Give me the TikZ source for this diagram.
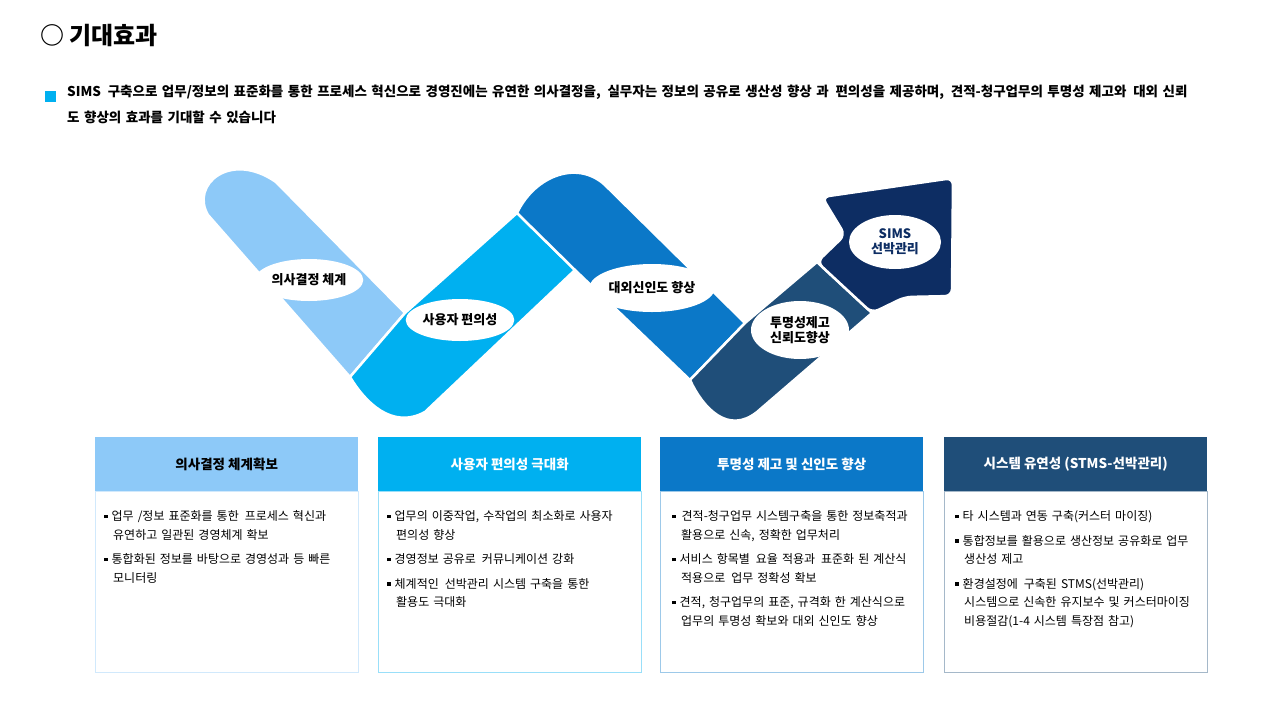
\documentclass[tikz,border=0pt]{standalone}
\usetikzlibrary{shapes.geometric}
\usepackage{fontspec}
\setmainfont{Noto Sans CJK KR}
\definecolor{cA}{HTML}{8DC9F8}
\definecolor{cB}{HTML}{00B0F0}
\definecolor{cC}{HTML}{0B78C8}
\definecolor{cD}{HTML}{1F4E79}
\definecolor{cE}{HTML}{0D2D63}
\newcommand{\bx}{\rule[2.5pt]{3.5pt}{3.5pt}\hspace{4pt}}
\newcommand{\bitem}[1]{\par\hangindent=9pt\hangafter=1\bx #1\par\vspace{6pt}}
\begin{document}
\begin{tikzpicture}[x=1pt,y=-1pt,
  seg/.style={draw=white,line width=2.5pt,line join=round},
  lab/.style={ellipse,fill=white,inner sep=1pt,font=\fontsize{13}{15}\selectfont\bfseries,align=center},
  head/.style={minimum width=263pt,minimum height=54pt,anchor=north west,font=\fontsize{13.5}{16}\selectfont\bfseries,text=white},
  body/.style={minimum width=263pt,minimum height=181pt,anchor=north west,draw=#1!40,line width=0.8pt},
  btext/.style={anchor=north west,text width=236pt,align=left,font=\fontsize{12}{18.5}\selectfont,inner sep=0pt}]
\useasboundingbox (0,0) rectangle (1280,718);
\node[anchor=west,font=\fontsize{24}{28}\selectfont\bfseries,inner sep=0pt] (title) at (40,35) {○ 기대효과};
\node[fill=cB,minimum size=11pt,inner sep=0pt] (sq) at (50,96) {};
\node[anchor=north west,text width=1180pt,font=\fontsize{13.5}{26}\selectfont\bfseries,inner sep=0pt,align=left] (intro) at (67,85) {SIMS\, 구축으로 업무/정보의 표준화를 통한 프로세스 혁신으로 경영진에는 유연한 의사결정을,\, 실무자는 정보의 공유로 생산성 향상 과\, 편의성을 제공하며,\, 견적-청구업무의 투명성 제고와\, 대외 신뢰\\도 향상의 효과를 기대할 수 있습니다};
% zigzag
\fill[cA,seg] (350,377) -- (208,215) .. controls (190,185) and (230,150) .. (276,182) -- (405,313) -- cycle;
\fill[cB,seg] (405,313) -- (350,377) .. controls (365,402) and (392,430) .. (425,412) -- (575,270) -- (517,213) -- cycle;
\fill[cC,seg] (517,213) .. controls (535,175) and (580,158) .. (608,188) -- (745,323) -- (690,380) -- (575,270) -- cycle;
\fill[cD,seg] (745,323) -- (690,380) .. controls (703,408) and (728,435) .. (757,412) -- (872,313) -- (817,262) -- cycle;
\fill[cE,seg,rounded corners=7pt] (817,262) -- (845,235) -- (822,197) -- (953,178) -- (952,296) -- (905,297) -- (872,313) -- cycle;
\node[lab,minimum width=100pt,minimum height=42pt] (l1) at (309,280) {의사결정 체계};
\node[lab,minimum width=100pt,minimum height=42pt] (l2) at (460,320) {사용자 편의성};
\node[lab,minimum width=108pt,minimum height=48pt] (l3) at (652,288) {대외신인도 향상};
\node[lab,minimum width=98pt,minimum height=58pt] (l4) at (800,330) {투명성제고\\신뢰도향상};
\node[lab,minimum width=92pt,minimum height=54pt,text=cE] (l5) at (895,242) {SIMS\\선박관리};
% boxes
\node[head,fill=cA,text=black] (h1) at (95,437) {의사결정 체계확보};
\node[head,fill=cB] (h2) at (378,437) {사용자 편의성 극대화};
\node[head,fill=cC] (h3) at (660,437) {투명성 제고 및 신인도 향상};
\node[head,fill=cD] (h4) at (944,437) {시스템 유연성 (STMS-선박관리)};
\node[body=cA] (b1) at (95,491) {};
\node[body=cB] (b2) at (378,491) {};
\node[body=cC] (b3) at (660,491) {};
\node[body=cD] (b4) at (944,491) {};
\node[btext] (t1) at (104,502) {\bitem{업무 /정보 표준화를 통한\, 프로세스 혁신과 유연하고 일관된 경영체계 확보}\bitem{통합화된 정보를 바탕으로 경영성과 등 빠른 모니터링}};
\node[btext] (t2) at (387,502) {\bitem{업무의 이중작업, 수작업의 최소화로 사용자 편의성 향상}\bitem{경영정보 공유로\, 커뮤니케이션 강화}\bitem{체계적인\, 선박관리 시스템 구축을 통한 활용도 극대화}};
\node[btext] (t3) at (672,502) {\bitem{\,견적-청구업무 시스템구축을 통한 정보축적과 활용으로 신속, 정확한 업무처리}\bitem{서비스 항목별\, 요율 적용과\, 표준화 된 계산식 적용으로\, 업무 정확성 확보}\bitem{견적, 청구업무의 표준, 규격화 한 계산식으로 업무의 투명성 확보와 대외 신인도 향상}};
\node[btext] (t4) at (955,502) {\bitem{타 시스템과 연동 구축(커스터 마이징)}\bitem{통합정보를 활용으로 생산정보 공유화로 업무 생산성 제고}\bitem{환경설정에\, 구축된 STMS(선박관리) 시스템으로 신속한 유지보수 및 커스터마이징 비용절감(1-4 시스템 특장점 참고)}};
\end{tikzpicture}
\end{document}
